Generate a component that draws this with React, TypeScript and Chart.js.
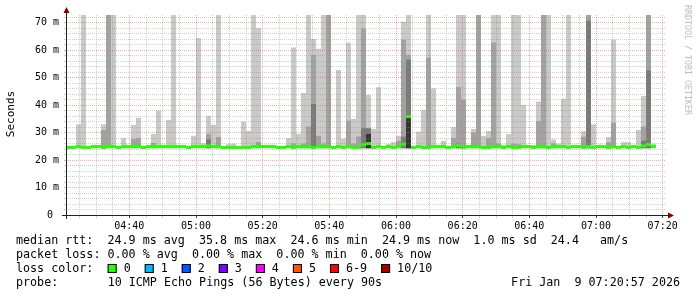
import { useEffect, useRef } from 'react';
import { Chart, registerables } from 'chart.js';

Chart.register(...registerables);

const n = null;

// RRD sampling: 90 s steps, first step ends at 04:22:30
const FIRST_STEP_END = '04:22:30';
const STEP_SECONDS = 90;
const X_RANGE = ['04:21:00', '07:21:00'];
const Y_MAX = 72.8;

// median rtt (ms) per step
const median = [
  24.6, 24.6, 24.9, 24.6, 24.6, 24.9, 24.9, 24.6, 25.2, 24.9,
  24.6, 24.9, 24.9, 24.9, 25.2, 24.6, 24.9, 24.9, 24.9, 24.9,
  24.9, 24.9, 24.9, 24.9, 24.6, 24.9, 24.9, 24.9, 25.2, 24.9,
  24.9, 24.6, 24.6, 24.6, 24.6, 24.6, 24.6, 24.9, 24.9, 24.9,
  24.9, 24.9, 24.6, 24.6, 24.9, 24.6, 24.9, 24.9, 24.9, 24.6,
  24.9, 24.9, 24.9, 24.6, 24.9, 24.6, 24.9, 24.6, 24.6, 25.6,
  26.0, 24.6, 24.9, 24.6, 24.9, 24.6, 24.9, 25.8, 35.8, 24.6,
  24.9, 24.6, 24.6, 24.9, 24.9, 24.9, 24.6, 24.9, 25.3, 24.6,
  24.9, 24.9, 24.9, 24.6, 24.6, 24.9, 24.9, 24.6, 24.9, 24.6,
  24.6, 24.9, 24.9, 24.6, 24.9, 24.9, 24.6, 24.9, 24.9, 24.9,
  24.6, 24.9, 24.9, 24.6, 24.9, 24.6, 24.9, 24.9, 24.6, 24.9,
  24.6, 24.9, 24.6, 24.9, 24.6, 25.2, 25.7, 24.9,
];

// smoke: top of each shade band (ms) per step
const smokeLight = [
  n, n, 33.0, 73, n, n, n, 33.0, 73, 73,
  n, 28.0, n, 32.8, 35.4, n, n, 29.5, 38.0, n,
  34.6, 73, n, n, n, 28.8, 64.4, 26.1, 36.1, 32.8,
  73, n, 25.8, 26.0, n, 34.0, 30.6, 73, 68.0, n,
  n, n, n, n, 28.0, 61.0, 29.5, 44.4, 73, 64.1,
  60.5, 73, 73, n, 52.8, 27.8, 62.7, 35.0, 73, 73,
  43.7, 31.3, 46.5, n, 25.8, 26.5, 28.8, 70.4, 73, n,
  30.3, 38.3, 73, 46.1, n, 27.0, n, 32.0, 73, 73,
  25.5, 31.3, 73, 28.8, 30.6, 73, 73, 25.6, 29.5, 73,
  73, 40.1, n, 25.5, 41.3, 73, 73, 27.5, 26.0, 42.3,
  73, n, n, 30.5, 73, 33.0, n, n, 28.4, 63.8,
  n, 26.5, 26.5, n, 31.0, 43.3, 73, 26.0,
];

const smokeMid = [
  n, n, n, n, n, n, n, 31.0, 73, n,
  n, n, n, 27.6, 28.0, n, n, 26.2, n, n,
  n, n, n, n, n, n, n, n, 29.5, n,
  28.4, n, n, n, n, n, n, n, 26.6, n,
  n, n, n, n, n, 26.1, n, 26.0, 32.2, 58.3,
  28.8, 26.0, 73, n, n, n, 34.4, 26.0, 28.6, 67.8,
  n, n, n, n, n, n, 27.0, 63.8, 58.3, n,
  n, n, 57.3, n, n, n, n, 28.0, 46.6, 42.0,
  n, 30.0, 73, n, 28.0, 62.8, 26.0, n, n, 26.0,
  25.8, n, n, n, 34.2, 73, n, 26.0, n, n,
  n, n, n, 28.5, 73, n, n, n, 26.5, 33.6,
  n, n, n, n, n, 32.2, 73, n,
];

const smokeDark = [
  n, n, n, n, n, n, n, n, n, n,
  n, n, n, n, n, n, n, n, n, n,
  n, n, n, n, n, n, n, n, 27.6, n,
  n, n, n, n, n, n, n, n, n, n,
  n, n, n, n, n, n, n, n, n, 40.4,
  n, n, n, n, n, n, n, n, n, 31.6,
  31.6, n, n, n, n, n, n, 28.5, 56.5, n,
  n, n, n, n, n, n, n, n, 26.0, n,
  n, n, n, n, n, n, n, n, n, n,
  n, n, n, n, n, n, n, n, n, n,
  n, n, n, n, 70.7, n, n, n, n, n,
  n, n, n, n, n, 27.0, 52.6, n,
];

const smokeDarkest = [
  n, n, n, n, n, n, n, n, n, n,
  n, n, n, n, n, n, n, n, n, n,
  n, n, n, n, n, n, n, n, n, n,
  n, n, n, n, n, n, n, n, n, n,
  n, n, n, n, n, n, n, n, n, n,
  n, n, n, n, n, n, n, n, n, n,
  29.5, n, n, n, n, n, n, n, 35.8, n,
  n, n, n, n, n, n, n, n, n, n,
  n, n, n, n, n, n, n, n, n, n,
  n, n, n, n, n, n, n, n, n, n,
  n, n, n, n, n, n, n, n, n, n,
  n, n, n, n, n, n, n, n,
];

const SMOKE_FLOOR = 24.3;

const xTickLabels = ['04:40', '05:00', '05:20', '05:40', '06:00', '06:20', '06:40', '07:00', '07:20'];
const yTickLabels = ['0 ', '10 m', '20 m', '30 m', '40 m', '50 m', '60 m', '70 m'];

const rttStats = ['24.9 ms avg', '35.8 ms max', '24.6 ms min', '24.9 ms now', '1.0 ms sd', '24.4   am/s'];
const lossStats = ['0.00 % avg', '0.00 % max', '0.00 % min', '0.00 % now'];
const lossLegend: [string, string][] = [
  ['0', '#26ff00'], ['1', '#00b8ff'], ['2', '#0059ff'], ['3', '#7e00ff'],
  ['4', '#ff00ff'], ['5', '#ff5500'], ['6-9', '#ff0000'], ['10/10', '#a10000'],
];
const probeText = '10 ICMP Echo Pings (56 Bytes) every 90s';
const dateText = 'Fri Jan  9 07:20:57 2026';
const yTitle = 'Seconds';
const watermark = 'RRDTOOL / TOBI OETIKER';

const toMin = (s: string) => {
  const [h, m, sec] = s.split(':').map(Number);
  return h * 60 + m + (sec || 0) / 60;
};

const firstEnd = toMin(FIRST_STEP_END);
const stepX = median.map((_, i) => firstEnd + (i * STEP_SECONDS - STEP_SECONDS / 2) / 60);

const bandData = (tops: (number | null)[]) =>
  tops
    .map((t, i) => (t == null ? null : { x: stepX[i], y: [SMOKE_FLOOR, t] }))
    .filter(Boolean);

const MEDIAN_HALF = 0.55;
const medianData = median.map((m, i) => ({ x: stepX[i], y: [m - MEDIAN_HALF, m + MEDIAN_HALF] }));

const MONO = '"DejaVu Sans Mono", monospace';
const GRID_MINOR = 'rgba(143,143,143,0.42)';
const GRID_MAJOR = 'rgba(225,90,90,0.5)';

const xMajorSet = new Set(xTickLabels.map(toMin));

const decorPlugin = {
  id: 'rrdDecor',
  afterDraw(chart: any) {
    const { ctx, chartArea: a } = chart;
    ctx.save();
    // axes
    ctx.strokeStyle = '#212121';
    ctx.lineWidth = 1;
    ctx.beginPath();
    ctx.moveTo(a.left - 4, a.bottom + 0.5);
    ctx.lineTo(a.right + 3, a.bottom + 0.5);
    ctx.moveTo(a.left + 0.5, a.bottom + 4);
    ctx.lineTo(a.left + 0.5, a.top - 3);
    ctx.stroke();
    // arrows
    ctx.fillStyle = '#800000';
    ctx.beginPath();
    ctx.moveTo(a.right + 2, a.bottom - 2.5);
    ctx.lineTo(a.right + 8, a.bottom + 0.5);
    ctx.lineTo(a.right + 2, a.bottom + 3.5);
    ctx.closePath();
    ctx.fill();
    ctx.beginPath();
    ctx.moveTo(a.left - 2.5, a.top - 2);
    ctx.lineTo(a.left + 0.5, a.top - 8);
    ctx.lineTo(a.left + 3.5, a.top - 2);
    ctx.closePath();
    ctx.fill();

    // y title
    ctx.fillStyle = '#000';
    ctx.font = `11px ${MONO}`;
    ctx.textAlign = 'center';
    ctx.textBaseline = 'middle';
    ctx.save();
    ctx.translate(11, 114);
    ctx.rotate(-Math.PI / 2);
    ctx.fillText(yTitle, 0, 0);
    ctx.restore();

    // watermark
    ctx.save();
    ctx.fillStyle = '#bdbdbd';
    ctx.font = `8.3px ${MONO}`;
    ctx.textAlign = 'left';
    ctx.translate(687, 5);
    ctx.rotate(Math.PI / 2);
    ctx.fillText(watermark, 0, 0);
    ctx.restore();

    // legend
    const cw = 7.05;
    ctx.font = `11.7px ${MONO}`;
    ctx.fillStyle = '#000';
    ctx.textAlign = 'left';
    ctx.textBaseline = 'middle';
    const x0 = 16;
    const col13 = x0 + 13 * cw;
    ctx.fillText('median rtt:  ' + rttStats.join('  '), x0, 241);
    ctx.fillText('packet loss: ' + lossStats.join('  '), x0, 255);
    ctx.fillText('loss color:', x0, 269);
    let bx = col13;
    lossLegend.forEach(([label, color]) => {
      ctx.fillStyle = color;
      ctx.fillRect(bx, 264, 9, 9);
      ctx.strokeStyle = '#000';
      ctx.strokeRect(bx + 0.5, 264.5, 8, 8);
      ctx.fillStyle = '#000';
      ctx.fillText(label, bx + 16, 269);
      bx += 16 + label.length * cw + 14;
    });
    ctx.fillText('probe:', x0, 283);
    ctx.fillText(probeText, col13, 283);
    ctx.textAlign = 'right';
    ctx.fillText(dateText, 680, 283);
    ctx.restore();
  },
};

const barBase = {
  type: 'bar' as const,
  borderWidth: 0,
  grouped: false,
  barPercentage: 1,
  categoryPercentage: 1,
  inflateAmount: 0,
  clip: 0,
};

export default function App() {
  const ref = useRef<HTMLCanvasElement>(null);

  useEffect(() => {
    const canvas = ref.current;
    if (!canvas) return;
    const xMin = toMin(X_RANGE[0]);
    const xMax = toMin(X_RANGE[1]);
    const chart = new Chart(canvas, {
      type: 'bar',
      data: {
        datasets: [
          { ...barBase, label: 'median', data: medianData as any, backgroundColor: '#26ff00', order: 0 },
          { ...barBase, label: 'darkest', data: bandData(smokeDarkest) as any, backgroundColor: '#353535', order: 1 },
          { ...barBase, label: 'dark', data: bandData(smokeDark) as any, backgroundColor: '#7a7a7a', order: 2 },
          { ...barBase, label: 'mid', data: bandData(smokeMid) as any, backgroundColor: '#a2a2a2', order: 3 },
          { ...barBase, label: 'light', data: bandData(smokeLight) as any, backgroundColor: '#c9c9c9', order: 4 },
        ] as any,
      },
      options: {
        responsive: false,
        animation: false,
        devicePixelRatio: 1,
        layout: { padding: { left: 0, right: 31, top: 15, bottom: 0 } },
        plugins: { legend: { display: false }, tooltip: { enabled: false } },
        scales: {
          x: {
            type: 'linear',
            min: xMin,
            max: xMax,
            offset: false,
            afterBuildTicks: (s: any) => {
              const t = [];
              for (let v = Math.ceil(xMin / 5) * 5; v <= xMax; v += 5) t.push({ value: v });
              s.ticks = t;
            },
            afterFit: (s: any) => { s.height = 82; },
            grid: {
              offset: false,
              z: 1,
              lineWidth: 1,
              color: (c: any) => (xMajorSet.has(c.tick?.value) ? GRID_MAJOR : GRID_MINOR),
              tickLength: 3,
              tickColor: (c: any) => (xMajorSet.has(c.tick?.value) ? '#444' : GRID_MINOR),
            },
            border: { display: false, dash: [1, 1] },
            ticks: {
              autoSkip: false,
              maxRotation: 0,
              padding: 2,
              color: '#000',
              font: { family: 'DejaVu Sans Mono', size: 10 },
              callback: (v: any) => {
                const i = xTickLabels.findIndex((l) => toMin(l) === Number(v));
                return i >= 0 ? xTickLabels[i] : '';
              },
            },
          },
          y: {
            type: 'linear',
            min: 0,
            max: Y_MAX,
            afterBuildTicks: (s: any) => {
              const t = [];
              for (let v = 0; v <= Y_MAX; v += 2) t.push({ value: v });
              s.ticks = t;
            },
            afterFit: (s: any) => { s.width = 66; },
            grid: {
              z: 1,
              lineWidth: 1,
              color: (c: any) => (c.tick && c.tick.value % 10 === 0 ? GRID_MAJOR : GRID_MINOR),
              tickLength: 2,
              tickColor: (c: any) => (c.tick && c.tick.value % 10 === 0 ? GRID_MAJOR : GRID_MINOR),
            },
            border: { display: false, dash: [1, 1] },
            ticks: {
              autoSkip: false,
              padding: 5,
              color: '#000',
              font: { family: 'DejaVu Sans Mono', size: 10 },
              callback: (v: any) => {
                const num = Number(v);
                return num % 10 === 0 ? yTickLabels[num / 10] ?? '' : '';
              },
            },
          },
        },
      } as any,
      plugins: [decorPlugin],
    });
    return () => chart.destroy();
  }, []);

  return (
    <div style={{ position: 'absolute', left: 0, top: 0, width: 697, height: 297, background: '#fff' }}>
      <canvas ref={ref} width={697} height={297} style={{ display: 'block', width: '697px', height: '297px' }} />
    </div>
  );
}
